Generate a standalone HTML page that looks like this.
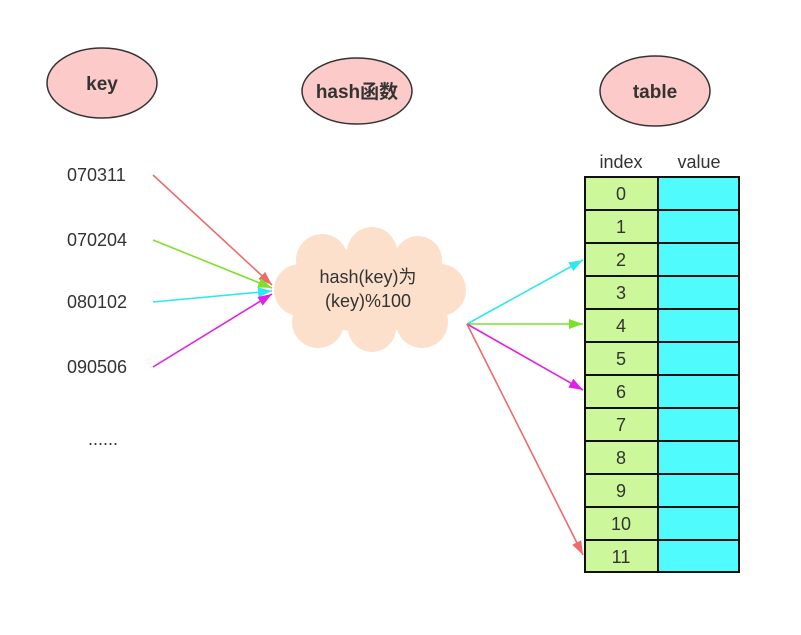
<!DOCTYPE html>
<html><head><meta charset="utf-8"><style>
body{margin:0;background:#fff;width:801px;height:635px;overflow:hidden}
svg{display:block}
text{font-family:"Liberation Sans","Noto Sans CJK SC",sans-serif}
</style></head><body>
<svg width="801" height="635" viewBox="0 0 801 635">
<defs>
<marker id="mr" markerWidth="14" markerHeight="10" refX="14" refY="5" orient="auto" markerUnits="userSpaceOnUse"><path d="M0,0L14,5L0,10z" fill="#ec6c6c"/></marker>
<marker id="mg" markerWidth="14" markerHeight="10" refX="14" refY="5" orient="auto" markerUnits="userSpaceOnUse"><path d="M0,0L14,5L0,10z" fill="#7fe02a"/></marker>
<marker id="mc" markerWidth="14" markerHeight="10" refX="14" refY="5" orient="auto" markerUnits="userSpaceOnUse"><path d="M0,0L14,5L0,10z" fill="#2ee8f0"/></marker>
<marker id="mm" markerWidth="14" markerHeight="10" refX="14" refY="5" orient="auto" markerUnits="userSpaceOnUse"><path d="M0,0L14,5L0,10z" fill="#e020e8"/></marker>
</defs>
<g fill="#fdcaca" stroke="#333" stroke-width="1.5">
<ellipse cx="102" cy="83" rx="55" ry="35"/>
<ellipse cx="357" cy="91" rx="55" ry="33"/>
<ellipse cx="655" cy="91" rx="55" ry="35"/>
</g>
<g font-weight="bold" font-size="19" fill="#333" text-anchor="middle">
<text x="102" y="90">key</text>
<text x="357" y="98">hash函数</text>
<text x="655" y="98">table</text>
</g>
<g font-size="18" fill="#333">
<text x="67" y="181">070311</text>
<text x="67" y="246">070204</text>
<text x="67" y="308">080102</text>
<text x="67" y="373">090506</text>
<text x="88" y="445">......</text>
</g>
<g fill="#fde0cc">
<ellipse cx="370" cy="290" rx="92" ry="42"/>
<circle cx="322" cy="260" r="26"/><circle cx="372" cy="252" r="25"/><circle cx="418" cy="260" r="24"/>
<circle cx="440" cy="290" r="26"/><circle cx="422" cy="322" r="26"/><circle cx="372" cy="328" r="24"/>
<circle cx="318" cy="322" r="26"/><circle cx="300" cy="290" r="26"/>
</g>
<g font-size="18" fill="#333" text-anchor="middle">
<text x="368" y="283">hash(key)为</text>
<text x="368" y="307">(key)%100</text>
</g>
<g stroke-width="1.6" fill="none">
<line x1="153" y1="175" x2="272" y2="285" stroke="#ec6c6c" marker-end="url(#mr)"/>
<line x1="153" y1="240" x2="272" y2="288" stroke="#7fe02a" marker-end="url(#mg)"/>
<line x1="153" y1="302" x2="272" y2="291" stroke="#2ee8f0" marker-end="url(#mc)"/>
<line x1="153" y1="367" x2="272" y2="294" stroke="#e020e8" marker-end="url(#mm)"/>
<line x1="467" y1="324" x2="583" y2="260" stroke="#2ee8f0" marker-end="url(#mc)"/>
<line x1="467" y1="324" x2="583" y2="324" stroke="#7fe02a" marker-end="url(#mg)"/>
<line x1="467" y1="324" x2="583" y2="390" stroke="#e020e8" marker-end="url(#mm)"/>
<line x1="467" y1="324" x2="583" y2="555" stroke="#ec6c6c" marker-end="url(#mr)"/>
</g>
<g font-size="18" fill="#333" text-anchor="middle">
<text x="621" y="168">index</text>
<text x="699" y="168">value</text>
</g>
<rect x="585" y="177" width="73" height="395" fill="#ccf79a"/>
<rect x="658" y="177" width="81" height="395" fill="#4ffbfd"/>
<g stroke="#111" stroke-width="2" fill="none">
<rect x="585" y="177" width="154" height="395"/>
<line x1="658" y1="177" x2="658" y2="572"/>
<path d="M585 210H739M585 243H739M585 276H739M585 309H739M585 342H739M585 375H739M585 408H739M585 441H739M585 474H739M585 507H739M585 540H739"/>
</g>
<g font-size="18" fill="#333" text-anchor="middle">
<text x="621" y="200">0</text><text x="621" y="233">1</text><text x="621" y="266">2</text>
<text x="621" y="299">3</text><text x="621" y="332">4</text><text x="621" y="365">5</text>
<text x="621" y="398">6</text><text x="621" y="431">7</text><text x="621" y="464">8</text>
<text x="621" y="497">9</text><text x="621" y="530">10</text><text x="621" y="563">11</text>
</g>
</svg>
</body></html>
